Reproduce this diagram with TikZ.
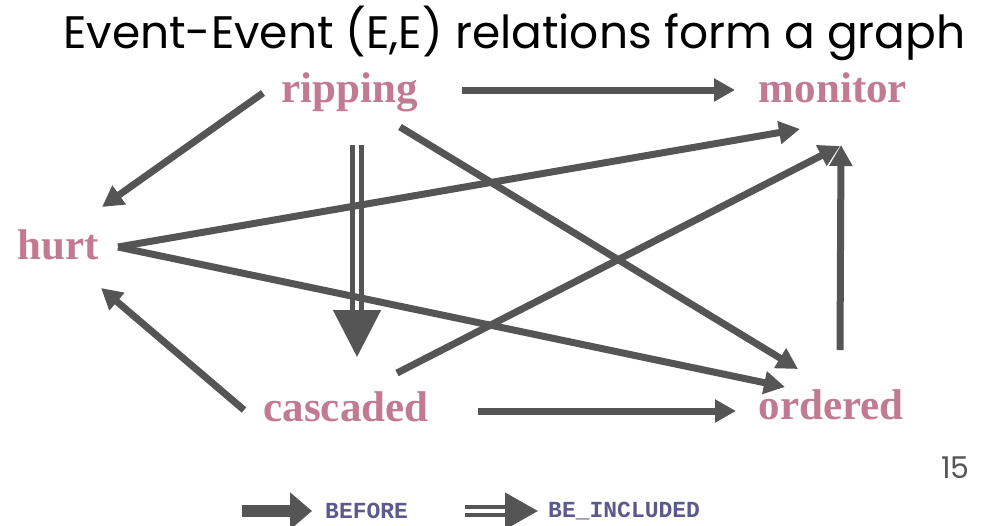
\documentclass[tikz,border=0pt]{standalone}
\usepackage{fontspec}
\setmainfont{Liberation Serif}
\newfontfamily\titlefont{Poppins}
\newfontfamily\legendfont{Liberation Mono}
\usetikzlibrary{arrows.meta}
\definecolor{evpink}{HTML}{C27A91}
\definecolor{argray}{HTML}{555555}
\definecolor{lgpurple}{HTML}{5C5A8C}

\begin{document}
\begin{tikzpicture}
  [x=1pt,y=-1pt,
   ev/.style={anchor=base,inner sep=0pt,color=evpink,font=\fontsize{43}{43}\bfseries\selectfont},
   bef/.style={argray,line width=7pt,-{Triangle[length=21pt,width=22pt]}},
   inc/.style={argray,line width=5pt,double=white,double distance=4pt,-{Triangle[length=47pt,width=47pt]}},
   lg/.style={anchor=west,inner sep=0pt,color=lgpurple,font=\legendfont\fontsize{23}{23}\bfseries\selectfont}]
  \useasboundingbox[fill=white] (0,0) rectangle (981,525);

  \node[anchor=base west,inner sep=0pt,font=\titlefont\fontsize{45.5}{45.5}\selectfont] (title) at (63,48) {Event-Event (E,E) relations form a graph};

  \node[ev] (rip) at (350,102) {ripping};
  \node[ev] (mon) at (833,102) {monitor};
  \node[ev] (hur) at (58,259) {hurt};
  \node[ev] (cas) at (346,421) {cascaded};
  \node[ev] (ord) at (831,419) {ordered};

  \draw[bef] ([shift={(112,-12)}]rip.base) -- ([shift={(-98,-12)}]mon.base);
  \draw[bef] ([shift={(-87,-9)}]rip.base) -- ([shift={(44,-52)}]hur.base);
  \draw[inc] ([shift={(7,43)}]rip.base) -- ([shift={(11,-64)}]cas.base);
  \draw[bef] ([shift={(50,25)}]rip.base) -- ([shift={(-33,-50)}]ord.base);

  \draw[bef] ([shift={(60,-12)}]hur.base) -- ([shift={(-33,27)}]mon.base);
  \draw[bef] ([shift={(60,-12)}]hur.base) -- ([shift={(-46,-32)}]ord.base);

  \draw[bef] ([shift={(-102,-11)}]cas.base) -- ([shift={(43,29)}]hur.base);
  \draw[bef] ([shift={(51,-48)}]cas.base) -- ([shift={(7,44)}]mon.base);
  \draw[bef] ([shift={(132,-10)}]cas.base) -- ([shift={(-95,-8)}]ord.base);

  \draw[bef] ([shift={(9,-69)}]ord.base) -- ([shift={(8,43)}]mon.base);

  % legend
  \node[lg] (lbef) at (325,511) {BEFORE};
  \node[lg] (linc) at (548,511) {BE\_INCLUDED};
  \coordinate (c1) at (242,511);
  \coordinate (c2) at (465,511);
  \draw[argray,line width=12pt,-{Triangle[length=22pt,width=36pt]}] (c1) -- ([xshift=-13pt]lbef.west);
  \draw[argray,line width=4.5pt,double=white,double distance=3.5pt,-{Triangle[length=33pt,width=36pt]}] (c2) -- ([xshift=-10pt]linc.west);

  \node[anchor=base east,inner sep=0pt,color=argray,font=\titlefont\fontsize{30}{30}\selectfont] (pg) at (970,478) {15};
\end{tikzpicture}
\end{document}
